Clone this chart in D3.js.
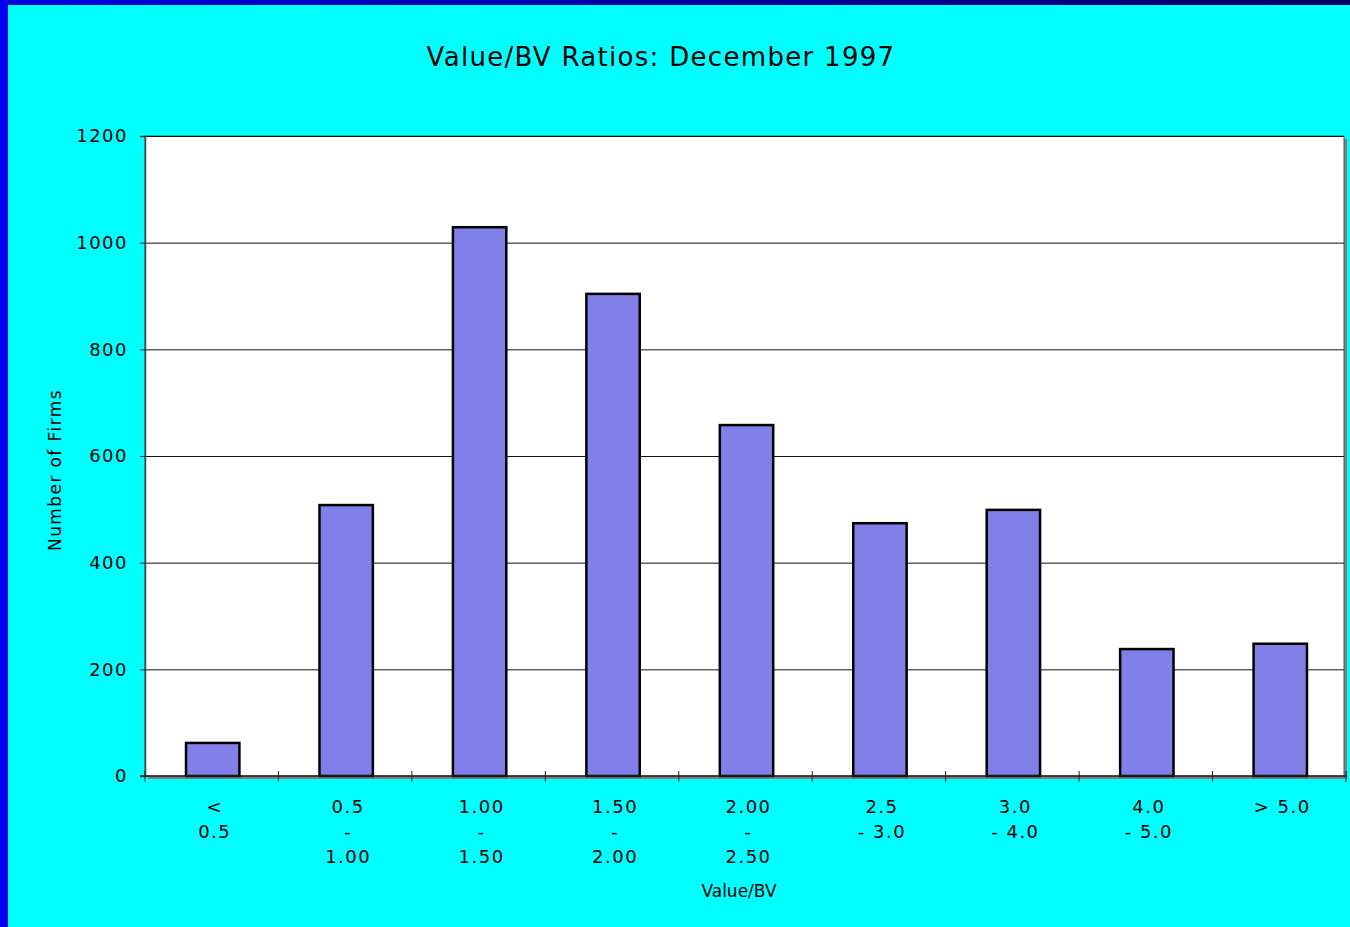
<!DOCTYPE html>
<html><head><meta charset="utf-8">
<script src="https://cdn.jsdelivr.net/npm/d3@7"></script>
<style>html,body{margin:0;padding:0;background:#00ffff;overflow:hidden}</style>
</head><body>
<script>
const categories = [["<","0.5"],["0.5","-","1.00"],["1.00","-","1.50"],["1.50","-","2.00"],["2.00","-","2.50"],["2.5","- 3.0"],["3.0","- 4.0"],["4.0","- 5.0"],["> 5.0"]];
const values = [62, 508, 1029, 904, 658, 474, 499, 238, 248];
const yTicks = [0, 200, 400, 600, 800, 1000, 1200];
const title = "Value/BV Ratios: December 1997";
const xTitle = "Value/BV";
const yTitle = "Number of Firms";

const W = 1350, H = 927;
const svg = d3.select("body").append("svg").attr("width", W).attr("height", H);
const font = "'DejaVu Sans', Verdana, sans-serif";

// background + borders
svg.append("rect").attr("width", W).attr("height", H).attr("fill", "#00ffff");
const grad = svg.append("defs").append("linearGradient").attr("id","tg").attr("x1","0").attr("x2","1");
grad.append("stop").attr("offset","0").attr("stop-color","#0000e0");
grad.append("stop").attr("offset","1").attr("stop-color","#000066");
svg.append("rect").attr("x",0).attr("y",0).attr("width",W).attr("height",5).attr("fill","url(#tg)");
svg.append("rect").attr("x",0).attr("y",0).attr("width",8).attr("height",H).attr("fill","#0000ee");

const L = 145, R = 1344, T = 136, B = 776;
const x = d3.scaleBand().domain(d3.range(values.length)).range([L+1, R+3]).paddingInner(0.6).paddingOuter(0.3);
const y = d3.scaleLinear().domain([0, 1200]).range([B, T]);

// plot area shadow + background
svg.append("rect").attr("x", L+3).attr("y", T+3).attr("width", R-L).attr("height", B-T).attr("fill", "#808080");
svg.append("rect").attr("x", L).attr("y", T).attr("width", R-L).attr("height", B-T).attr("fill", "#ffffff").attr("stroke","#555").attr("stroke-width",1);

// gridlines
svg.append("g").selectAll("line").data(yTicks.filter(d=>d>0)).join("line")
  .attr("x1", L).attr("x2", R).attr("y1", d=>y(d)+0.5).attr("y2", d=>y(d)+0.5)
  .attr("stroke", "#111").attr("stroke-width", 1);

// y axis
const yAxis = svg.append("g").attr("transform", `translate(${L},0)`)
  .call(d3.axisLeft(y).tickValues(yTicks).tickFormat(d3.format("d")).tickSize(5).tickPadding(12));
yAxis.select(".domain").attr("stroke","#444").attr("stroke-width",1.5);
yAxis.selectAll(".tick line").attr("stroke","#222");
yAxis.selectAll("text").attr("font-family", font).attr("font-size", 18).attr("fill","#000").attr("letter-spacing","1.5px");

// bars
svg.append("g").selectAll("rect").data(values).join("rect")
  .attr("x", (d,i)=>x(i)).attr("width", x.bandwidth())
  .attr("y", d=>y(d)).attr("height", d=>B - y(d))
  .attr("fill", "#8080e8").attr("stroke", "#000").attr("stroke-width", 2.5);

// x axis line and ticks
const step = (R + 2 - L) / values.length;
svg.append("line").attr("x1", L-5).attr("x2", R+3).attr("y1", B).attr("y2", B).attr("stroke","#222").attr("stroke-width",1.5);
svg.append("g").selectAll("line").data(d3.range(values.length+1)).join("line")
  .attr("x1", i=>L + i*step).attr("x2", i=>L + i*step).attr("y1", B-5).attr("y2", B+6)
  .attr("stroke","#222").attr("stroke-width",1);

// x labels
const lab = svg.append("g").selectAll("text").data(categories).join("text")
  .attr("font-family", font).attr("font-size", 18).attr("fill","#000").attr("text-anchor","middle").attr("letter-spacing","1.5px")
  .attr("transform", (d,i)=>`translate(${x(i)+x.bandwidth()/2+2},0)`);
lab.selectAll("tspan").data(d=>d).join("tspan").attr("x",0).attr("y",(d,j)=>813 + j*25).text(d=>d);

// titles
svg.append("text").attr("x", 661).attr("y", 66).attr("text-anchor","middle").attr("font-family", font).attr("font-size", 26).attr("letter-spacing","1.3px").attr("fill","#000").text(title);
svg.append("text").attr("x", 739).attr("y", 897).attr("text-anchor","middle").attr("font-family", font).attr("font-size", 17).attr("fill","#000").text(xTitle);
svg.append("text").attr("transform","translate(61,470) rotate(-90)").attr("text-anchor","middle").attr("font-family", font).attr("font-size", 17).attr("letter-spacing","1.4px").attr("fill","#000").text(yTitle);
</script>
</body></html>
